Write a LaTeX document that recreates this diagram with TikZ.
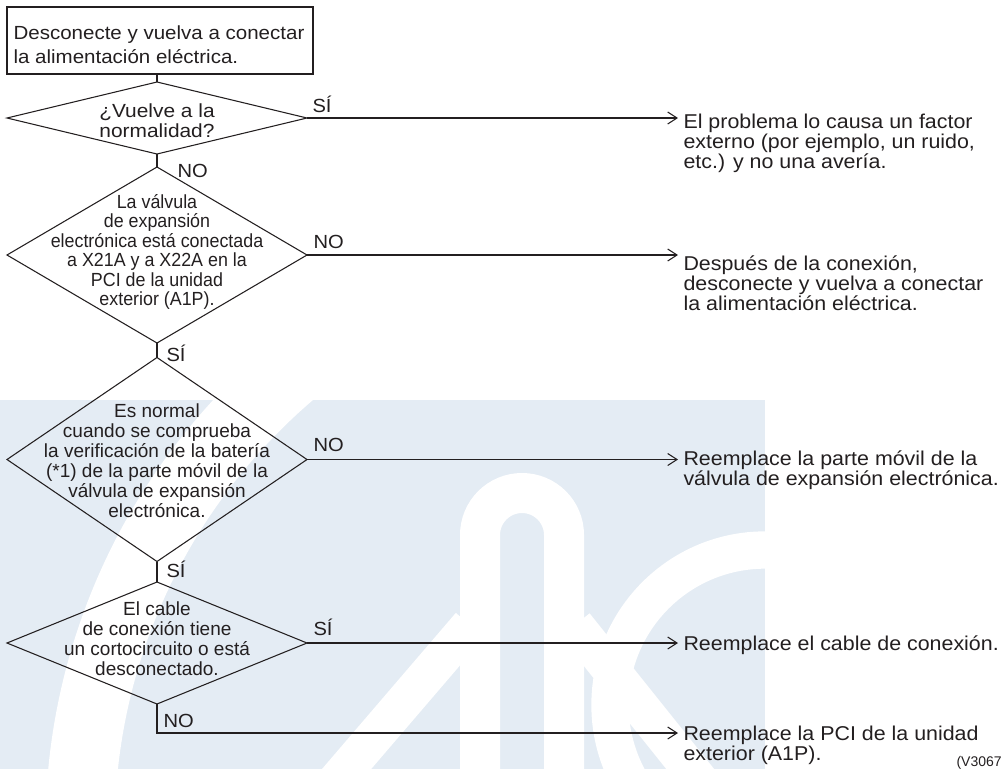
\documentclass[tikz,border=0pt]{standalone}
\usepackage{fontspec}
\setmainfont{Liberation Sans}
\newfontfamily\fR[FakeStretch=1.07]{Liberation Sans}
\newfontfamily\fB[FakeStretch=1.08]{Liberation Sans}
\newfontfamily\fL[FakeStretch=1.06]{Liberation Sans}
\newfontfamily\fDa[FakeStretch=1.1]{Liberation Sans}
\newfontfamily\fDc[FakeStretch=0.94]{Liberation Sans}
\newfontfamily\fDb{Liberation Sans}
\usetikzlibrary{shapes.geometric,arrows.meta}
\definecolor{ink}{HTML}{231F20}
\definecolor{wm}{HTML}{E4ECF4}
\begin{document}
\begin{tikzpicture}[x=0.75pt,y=-0.75pt,
  line width=0.8pt, draw=ink, text=ink,
  dia/.style={draw, shape=diamond, inner sep=0pt, outer sep=0pt, minimum width=225pt},
  boxnode/.style={draw, rectangle, inner sep=0pt, outer sep=0pt, minimum width=229.5pt, minimum height=50.25pt},
  dtext/.style={align=center, inner sep=0pt, font=\fDb\fontsize{14.25pt}{15pt}\selectfont},
  rtext/.style={align=left, anchor=west, inner xsep=3.75pt, inner ysep=0pt, font=\fR\fontsize{15pt}{15pt}\selectfont},
  lab/.style={anchor=west, inner sep=0pt, font=\fL\fontsize{14.25pt}{15pt}\selectfont},
  arr/.style={-{Straight Barb[length=7pt,width=9pt]}},
  wmline/.style={draw=white, line width=30pt}
]
\useasboundingbox (0,0) rectangle (1002,769);
% watermark
\fill[wm] (0,400) rectangle (765,769);
\begin{scope}
  \clip (0,400) rectangle (765,769);
  \draw[draw=white, line width=52pt] (680,830) circle[radius=600];
  \draw[wmline] (480,790) -- (480,535) arc[start angle=180, end angle=360, radius=42] -- (564,790);
  \draw[wmline, line width=28pt] (470,625) -- (320,800);
  \draw[wmline, line width=28pt] (575,625) -- (715,800);
  \draw[draw=white, line width=28pt] (765,705) circle[radius=155];
\end{scope}

% start box
\node[boxnode] (box) at (160,40.5) {};
\node[anchor=west, inner sep=0pt, align=left, font=\fB\fontsize{14.25pt}{18pt}\selectfont] (boxt) at (13,45) {Desconecte y vuelva a conectar\\la alimentación eléctrica.};

% diamonds
\node[dia, minimum height=54pt] (d1) at (157,118) {};
\node[dtext, font=\fDa\fontsize{14.25pt}{15pt}\selectfont] (d1t) at (157,121) {¿Vuelve a la\\normalidad?};

\node[dia, minimum height=132pt] (d2) at (157,255) {};
\node[dtext, font=\fDc\fontsize{14.25pt}{14.6pt}\selectfont] (d2t) at (157,252) {La válvula\\de expansión\\electrónica está conectada\\a X21A y a X22A en la\\PCI de la unidad\\exterior (A1P).};

\node[dia, minimum height=153pt] (d3) at (157,459.5) {};
\node[dtext] (d3t) at (157,461) {Es normal\\cuando se comprueba\\la verificación de la batería\\(*1) de la parte móvil de la\\válvula de expansión\\electrónica.};

\node[dia, minimum height=91.5pt] (d4) at (157,643) {};
\node[dtext] (d4t) at (157,638.5) {El cable\\de conexión tiene\\un cortocircuito o está\\desconectado.};

% result texts
\node[rtext] (t1) at (678,143) {El problema lo causa un factor\\externo (por ejemplo, un ruido,\\etc.) y no una avería.};
\node[rtext] (t2) at (678,283) {Después de la conexión,\\desconecte y vuelva a conectar\\la alimentación eléctrica.};
\node[rtext] (t3) at (678,470) {Reemplace la parte móvil de la\\válvula de expansión electrónica.};
\node[rtext] (t4) at (678,645) {Reemplace el cable de conexión.};
\node[rtext] (t5) at (678,745) {Reemplace la PCI de la unidad\\exterior (A1P).};
\node[anchor=west, inner sep=0pt, font=\fontsize{10.5pt}{12pt}\selectfont] (code) at (956,763) {(V3067};

% connectors
\draw (d1.north) -- (d1.north |- box.south);
\draw (d1.south) -- (d2.north);
\draw (d2.south) -- (d3.north);
\draw (d3.south) -- (d4.north);
\draw[arr] (d1.east) -- (d1.east -| t1.west);
\draw[arr] (d2.east) -- (d2.east -| t2.west);
\draw[arr] (d3.east) -- (d3.east -| t3.west);
\draw[arr] (d4.east) -- (d4.east -| t4.west);
\coordinate (c5) at (157,733);
\draw[arr] (d4.south) -- (c5) -- (c5 -| t5.west);

% labels
\node[lab] (l1) at (312,104) {SÍ};
\node[lab] (l2) at (177,171) {NO};
\node[lab] (l3) at (313,242) {NO};
\node[lab] (l4) at (166,353) {SÍ};
\node[lab] (l5) at (313,445) {NO};
\node[lab] (l6) at (166,569) {SÍ};
\node[lab] (l7) at (313,627) {SÍ};
\node[lab] (l8) at (163,721) {NO};
\end{tikzpicture}
\end{document}
